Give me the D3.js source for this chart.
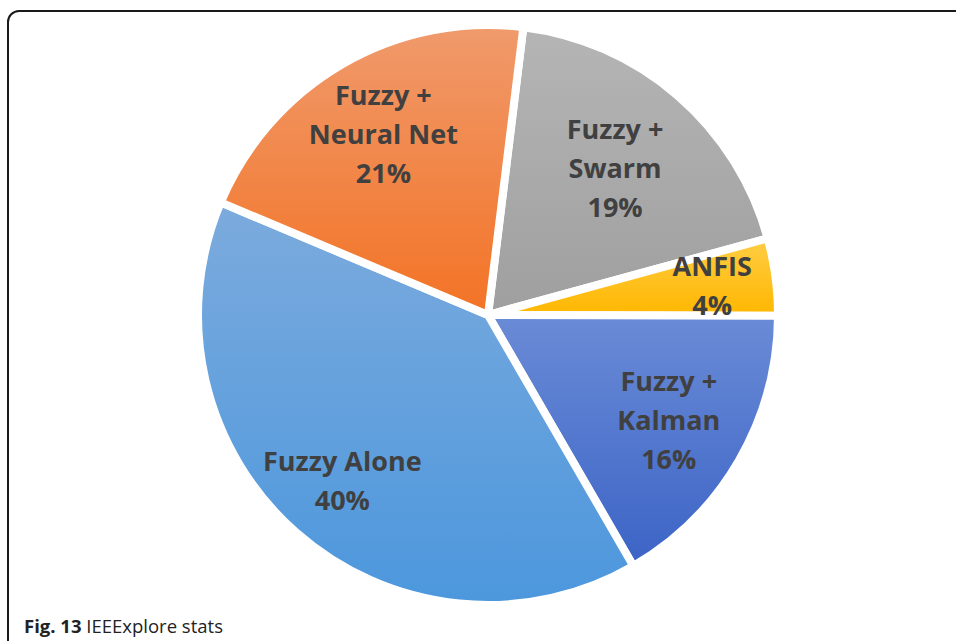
<!DOCTYPE html>
<html>
<head>
<meta charset="utf-8">
<script src="https://cdn.jsdelivr.net/npm/d3@7"></script>
<style>
  body { margin: 0; background: #fff; }
  svg { display: block; }
</style>
</head>
<body>
<script>
// data
const categories = ["Fuzzy + Swarm", "ANFIS", "Fuzzy + Kalman", "Fuzzy Alone", "Fuzzy + Neural Net"];
const labelLines = [["Fuzzy +", "Swarm"], ["ANFIS"], ["Fuzzy +", "Kalman"], ["Fuzzy Alone"], ["Fuzzy +", "Neural Net"]];
const shares = [18.8, 4.3, 16.6, 39.7, 20.6];
const shownPct = ["19%", "4%", "16%", "40%", "21%"];

const width = 956, height = 641;
const cx = 488, cy = 315, r = 290;

// colours: top / bottom of each slice gradient
const colTop = ["#b5b5b5", "#ffcd45", "#6a8bd6", "#7cabdd", "#f09a6c"];
const colBot = ["#9f9f9f", "#ffb700", "#3c64c6", "#4c97dd", "#f37325"];

const svg = d3.select("body").append("svg")
  .attr("width", width)
  .attr("height", height);

// gradients
const defs = svg.append("defs");
categories.forEach((c, i) => {
  const g = defs.append("linearGradient")
    .attr("id", "grad" + i)
    .attr("x1", 0).attr("y1", 0).attr("x2", 0).attr("y2", 1);
  g.append("stop").attr("offset", "0%").attr("stop-color", colTop[i]);
  g.append("stop").attr("offset", "100%").attr("stop-color", colBot[i]);
});

// frame
svg.append("rect")
  .attr("x", 8).attr("y", 11)
  .attr("width", 980).attr("height", 680)
  .attr("rx", 11)
  .attr("fill", "none")
  .attr("stroke", "#1a1a1a")
  .attr("stroke-width", 2);

const pie = d3.pie()
  .sort(null)
  .value(d => d)
  .startAngle(7 * Math.PI / 180)
  .endAngle(367 * Math.PI / 180);

const arcs = pie(shares);
const arc = d3.arc().innerRadius(0).outerRadius(r);

const g = svg.append("g").attr("transform", `translate(${cx},${cy})`);

g.selectAll("path.slice")
  .data(arcs)
  .enter()
  .append("path")
  .attr("class", "slice")
  .attr("d", arc)
  .attr("fill", (d, i) => `url(#grad${i})`)
  .attr("stroke", "#fff")
  .attr("stroke-width", 8)
  .attr("stroke-linejoin", "miter");

// labels (Excel pushes some of them in or out a bit)
const labelR = { "ANFIS": 0.78, "Fuzzy + Swarm": 0.67, "Fuzzy Alone": 0.76 };
const lineH = 39;
arcs.forEach((d, i) => {
  const k = labelR[categories[i]] || 0.72;
  const la = d3.arc().innerRadius(r * k).outerRadius(r * k);
  const [lx, ly] = la.centroid(d);
  const lines = labelLines[i].concat([shownPct[i]]);
  const t = g.append("text")
    .attr("text-anchor", "middle")
    .attr("font-family", "'Open Sans', sans-serif")
    .attr("font-weight", "bold")
    .attr("font-size", 27)
    .attr("fill", "#404040");
  lines.forEach((s, j) => {
    t.append("tspan")
      .attr("x", lx)
      .attr("y", ly + (j - (lines.length - 1) / 2) * lineH + 10)
      .text(s);
  });
});

// caption
const cap = svg.append("text")
  .attr("x", 24).attr("y", 633)
  .attr("font-family", "'Open Sans', sans-serif")
  .attr("font-size", 18.5)
  .attr("fill", "#222");
cap.append("tspan").attr("font-weight", "bold").text("Fig. 13");
cap.append("tspan").text(" IEEExplore stats");
</script>
</body>
</html>
